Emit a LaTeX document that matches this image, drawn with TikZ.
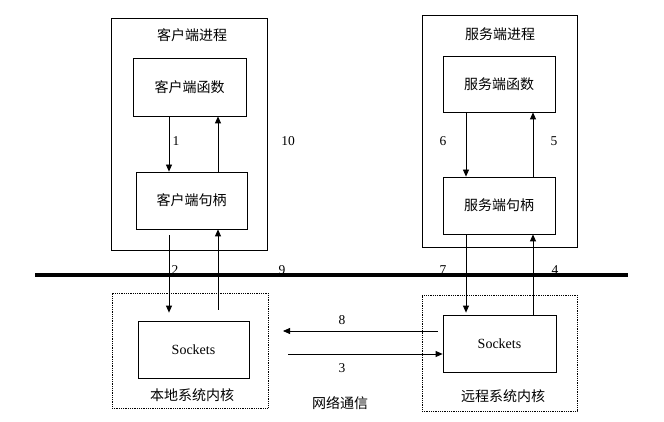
\documentclass[tikz,border=0pt]{standalone}
\usepackage{fontspec}
\setmainfont{Liberation Serif}
\newfontfamily\cjk{Noto Sans CJK SC}
\usetikzlibrary{arrows.meta}

\tikzset{
  box/.style={draw,thick,inner sep=0pt,font=\cjk\fontsize{14}{16}\selectfont},
  kernbox/.style={draw,densely dotted,thick,inner sep=0pt},
  arr/.style={thick,-{Triangle[length=7pt,width=6pt]}},
  num/.style={inner sep=0pt,font=\fontsize{13.5}{15}\selectfont},
  lbl/.style={inner sep=0pt,font=\cjk\fontsize{14}{16}\selectfont}
}

\begin{document}
\begin{tikzpicture}[x=1pt,y=-1pt]
\useasboundingbox (0,0) rectangle (664,422);

%% client process
\node[box,minimum width=156,minimum height=232] (cproc) at (189,134) {};
\node[lbl] (ctitle) at (192,35) {客户端进程};
\node[box,minimum width=113,minimum height=58] (cfunc) at (189.5,87) {客户端函数};
\node[box,minimum width=111,minimum height=57] (chand) at (191.5,200.5) {客户端句柄};

%% server process
\node[box,minimum width=155,minimum height=232] (sproc) at (499.5,131) {};
\node[lbl] (stitle) at (500,34) {服务端进程};
\node[box,minimum width=112,minimum height=56] (sfunc) at (499,84) {服务端函数};
\node[box,minimum width=112,minimum height=57] (shand) at (499,205.5) {服务端句柄};

%% kernels
\node[kernbox,minimum width=156,minimum height=115] (ckern) at (190,350.5) {};
\node[box,font=\fontsize{14}{16}\selectfont,minimum width=111,minimum height=57] (csock) at (193.5,349.5) {Sockets};
\node[lbl] (ckname) at (192,395) {本地系统内核};
\node[kernbox,minimum width=155,minimum height=116] (skern) at (499.5,353) {};
\node[box,font=\fontsize{14}{16}\selectfont,minimum width=113,minimum height=57] (ssock) at (499.5,343.5) {Sockets};
\node[lbl] (skname) at (503,396) {远程系统内核};
\node[lbl] (net) at (340,403) {网络通信};

%% bus
\coordinate (busl) at (35,275);
\coordinate (busr) at (628,275);
\draw[line width=3.3pt] (busl) -- (busr);

%% columns of the vertical arrows
\path (169,0) coordinate (x1) (218,0) coordinate (x2)
      (466,0) coordinate (x6) (533,0) coordinate (x5);

\draw[arr] (cfunc.south -| x1) -- (chand.north -| x1);
\draw[arr] (chand.north -| x2) -- (cfunc.south -| x2);
\draw[arr,shorten <=6pt,shorten >=8pt] (chand.south -| x1) -- (csock.north -| x1);
\draw[arr,shorten <=11pt] (csock.north -| x2) -- (chand.south -| x2);

\draw[arr] (sfunc.south -| x6) -- (shand.north -| x6);
\draw[arr] (shand.north -| x5) -- (sfunc.south -| x5);
\draw[arr,shorten >=2pt] (shand.south -| x6) -- (ssock.north -| x6);
\draw[arr] (ssock.north -| x5) -- (shand.south -| x5);

%% network
\coordinate (n8) at (283,331);
\coordinate (n3) at (288,354);
\draw[arr,shorten <=5pt] (ssock.west |- n8) -- (n8);
\draw[arr] (n3) -- (n3 -| ssock.west);

%% numbers
\node[num] (l1) at (176,141) {1};
\node[num] (l10) at (288,141) {10};
\node[num] (l6) at (443,141) {6};
\node[num] (l5) at (554,141) {5};
\node[num] (l2) at (175,270) {2};
\node[num] (l9) at (282,270) {9};
\node[num] (l7) at (443,270) {7};
\node[num] (l4) at (555,270) {4};
\node[num] (l8) at (342,320) {8};
\node[num] (l3) at (342,368) {3};
\end{tikzpicture}
\end{document}
